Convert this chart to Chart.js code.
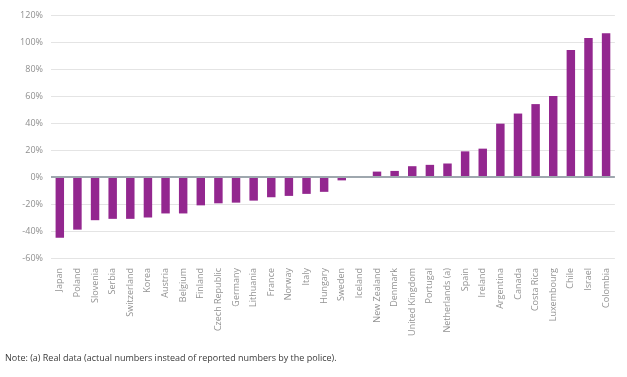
<!DOCTYPE html>
<html>
<head>
<meta charset="utf-8">
<script src="https://cdn.jsdelivr.net/npm/chart.js@4"></script>
<style>
html,body{margin:0;padding:0;background:#fff;}
#wrap{position:relative;width:627px;height:377px;}
#note{position:absolute;left:5px;top:351px;font-family:"Open Sans",sans-serif;font-size:9px;color:#3a3a3a;white-space:nowrap;}
</style>
</head>
<body>
<div id="wrap">
<canvas id="c" width="627" height="377"></canvas>
<div id="note">Note: (a) Real data (actual numbers instead of reported numbers by the police).</div>
</div>
<script>
const categories = ["Japan","Poland","Slovenia","Serbia","Switzerland","Korea","Austria","Belgium","Finland","Czech Republic","Germany","Lithuania","France","Norway","Italy","Hungary","Sweden","Iceland","New Zealand","Denmark","United Kingdom","Portugal","Netherlands (a)","Spain","Ireland","Argentina","Canada","Costa Rica","Luxembourg","Chile","Israel","Colombia"];
const values = [-45,-39,-32,-31,-31,-30,-27,-27,-21,-19.5,-19,-17.5,-15,-14,-12.5,-11,-2.5,0,4,4.5,8,9,10,19,21,39.5,47,54,60,94,103,106.5];
const yTicks = [-60,-40,-20,0,20,40,60,80,100,120];

new Chart(document.getElementById('c'), {
  type: 'bar',
  data: {
    labels: categories,
    datasets: [{
      data: values,
      backgroundColor: '#93278f',
      barPercentage: 0.48,
      categoryPercentage: 1.0
    }]
  },
  options: {
    responsive: false,
    animation: false,
    layout: { padding: { left: 0, right: 7, top: 15, bottom: 0 } },
    plugins: { legend: { display: false }, tooltip: { enabled: false } },
    scales: {
      x: {
        grid: { display: false, drawTicks: false },
        border: { display: false },
        ticks: {
          autoSkip: false, maxRotation: 90, minRotation: 90, padding: 10,
          color: '#939393', font: { family: 'Open Sans', size: 9 }
        },
        afterFit: s => { s.height = 119; }
      },
      y: {
        min: -60, max: 120,
        afterBuildTicks: s => { s.ticks = yTicks.map(v => ({ value: v })); },
        grid: {
          drawTicks: false,
          color: c => c.tick && c.tick.value === 0 ? '#9ea7ae' : '#e4e4e4',
          lineWidth: c => c.tick && c.tick.value === 0 ? 2 : 1
        },
        border: { display: false },
        ticks: {
          padding: 8, color: '#8f8f8f', font: { family: 'Open Sans', size: 9 },
          callback: v => v + '%'
        },
        afterFit: s => { s.width = 51; }
      }
    }
  }
});
</script>
</body>
</html>
